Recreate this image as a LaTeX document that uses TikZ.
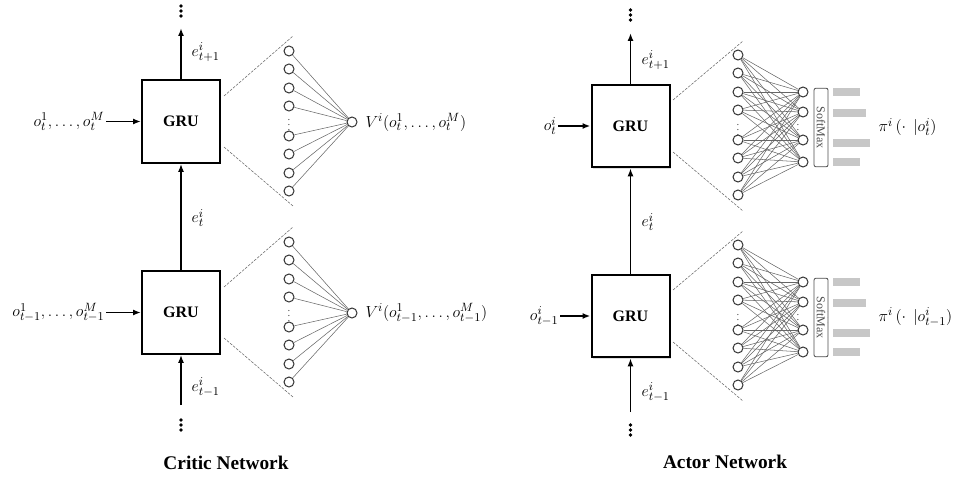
\documentclass[tikz,border=0pt]{standalone}
\usepackage{fontspec}
\setmainfont{Liberation Serif}
\usetikzlibrary{arrows.meta,shadows}
\begin{document}
\begin{tikzpicture}[x=0.75pt,y=-0.75pt,
  gru/.style={draw,line width=1.5pt,fill=white,minimum width=58.5pt,minimum height=62pt,
    font=\fontsize{12}{14}\selectfont\bfseries,
    drop shadow={opacity=0.25,shadow xshift=1pt,shadow yshift=-1pt}},
  arr/.style={line width=1.4pt,-{Latex[length=6pt,width=4.5pt]}},
  lab/.style={font=\fontsize{13}{15}\selectfont, inner sep=1pt},
  neu/.style={circle,draw=black!80,fill=white,line width=0.75pt,minimum size=7.5pt,inner sep=0pt},
  syn/.style={draw=black!60,line width=0.4pt},
  zoomline/.style={draw=black!60,line width=0.4pt,dash pattern=on 2pt off 1pt},
  bar/.style={fill=black!22},
  smax/.style={draw=black!70,line width=0.6pt,rounded corners=1.5pt,minimum width=10.5pt,minimum height=59pt,inner sep=0pt},
  title/.style={font=\fontsize{14.5}{17}\selectfont\bfseries},
  ndots/.style={font=\footnotesize,text=black!70,inner sep=0pt},
]
\useasboundingbox (0,0) rectangle (956,478);

% ================= CRITIC =================
\node[gru] (cg1) at (181,121.5) {GRU};
\node[gru] (cg2) at (181,312.5) {GRU};
\coordinate (ctop) at (181,28);
\coordinate (cbot) at (181,405);
\draw[arr] (cg1.north) -- (ctop);
\draw[arr] (cg2.north) -- (cg1.south);
\draw[arr] (cbot) -- (cg2.south);
\foreach \y in {6,11,16,420,425,430} \fill (181,\y) circle (1.4pt);
\node[lab,anchor=west] (ce1) at (190,52) {$e^i_{t+1}$};
\node[lab,anchor=west] (ce2) at (190,218) {$e^i_{t}$};
\node[lab,anchor=west] (ce3) at (190,387) {$e^i_{t-1}$};
\node[lab,anchor=east] (cin1) at (106,121.5) {$o^1_t,\ldots,o^M_t$};
\node[lab,anchor=east] (cin2) at (106,312.5) {$o^1_{t-1},\ldots,o^M_{t-1}$};
\draw[arr] (cin1.east |- cg1.west) -- (cg1.west);
\draw[arr] (cin2.east |- cg2.west) -- (cg2.west);

% critic top layer
\draw[zoomline] (224,96) -- (293,36);
\draw[zoomline] (224,147) -- (293,206);
\foreach \y [count=\k] in {51,69,88,106,136,154,173,191} \node[neu] (ct\k) at (289,\y) {};
\node[neu] (cto) at (352,122) {};
\foreach \k in {1,...,8} \draw[syn] (ct\k) -- (cto);
\node[ndots] at (289,121) {$\vdots$};
\node[lab,anchor=west] (cv1) at (364,122) {$V^i(o^1_t,\ldots,o^M_t)$};

% critic bottom layer
\draw[zoomline] (224,287) -- (293,227);
\draw[zoomline] (224,338) -- (293,397);
\foreach \y [count=\k] in {242,260,279,297,327,345,364,382} \node[neu] (cb\k) at (289,\y) {};
\node[neu] (cbo) at (352,313) {};
\foreach \k in {1,...,8} \draw[syn] (cb\k) -- (cbo);
\node[ndots] at (289,312) {$\vdots$};
\node[lab,anchor=west] (cv2) at (364,313) {$V^i(o^1_{t-1},\ldots,o^M_{t-1})$};

\node[title] (ctitle) at (226,463) {Critic Network};

% ================= ACTOR =================
\node[gru] (ag1) at (630.5,126) {GRU};
\node[gru] (ag2) at (630.5,316) {GRU};
\coordinate (atop) at (630.5,33);
\coordinate (abot) at (630.5,412);
\draw[arr] (ag1.north) -- (atop);
\draw[arr] (ag2.north) -- (ag1.south);
\draw[arr] (abot) -- (ag2.south);
\foreach \y in {10,15,20,425,430,435} \fill (630.5,\y) circle (1.4pt);
\node[lab,anchor=west] (ae1) at (640,60) {$e^i_{t+1}$};
\node[lab,anchor=west] (ae2) at (640,222) {$e^i_{t}$};
\node[lab,anchor=west] (ae3) at (640,392) {$e^i_{t-1}$};
\node[lab,anchor=east] (ain1) at (558,126) {$o^i_t$};
\node[lab,anchor=east] (ain2) at (560,316) {$o^i_{t-1}$};
\draw[arr] (ain1.east |- ag1.west) -- (ag1.west);
\draw[arr] (ain2.east |- ag2.west) -- (ag2.west);

% actor top layer
\draw[zoomline] (673,100) -- (743,41);
\draw[zoomline] (673,152) -- (743,211);
\foreach \y [count=\k] in {55,73,92,110,140,158,177,195} \node[neu] (al\k) at (738,\y) {};
\foreach \y [count=\k] in {92,112,140,162} \node[neu] (ar\k) at (803,\y) {};
\foreach \k in {1,...,8} \foreach \j in {1,...,4} \draw[syn] (al\k) -- (ar\j);
\node[ndots] at (738,126) {$\vdots$};
\node[ndots] at (798,126) {$\vdots$};
\node[smax] (as1) at (821,127.5) {};
\node[rotate=-90,font=\fontsize{9}{10}\selectfont,text=black!70] at (as1.center) {SoftMax};
\node[font=\tiny,text=black!35,inner sep=0pt] at (828,124) {$\vdots$};
\fill[bar] (833,88) rectangle (860,96);
\fill[bar] (833,109) rectangle (866,117);
\fill[bar] (833,139) rectangle (870,147);
\fill[bar] (833,158) rectangle (860,166);
\node[lab,anchor=west] (api1) at (877,127) {$\pi^{i}\,(\cdot\;\,|o^i_t)$};

% actor bottom layer
\draw[zoomline] (673,290) -- (743,231);
\draw[zoomline] (673,342) -- (743,401);
\foreach \y [count=\k] in {245,263,282,300,330,348,367,385} \node[neu] (bl\k) at (738,\y) {};
\foreach \y [count=\k] in {282,302,330,352} \node[neu] (br\k) at (803,\y) {};
\foreach \k in {1,...,8} \foreach \j in {1,...,4} \draw[syn] (bl\k) -- (br\j);
\node[ndots] at (738,316) {$\vdots$};
\node[ndots] at (798,316) {$\vdots$};
\node[smax] (as2) at (821,317.5) {};
\node[rotate=-90,font=\fontsize{9}{10}\selectfont,text=black!70] at (as2.center) {SoftMax};
\node[font=\tiny,text=black!35,inner sep=0pt] at (828,314) {$\vdots$};
\fill[bar] (833,278) rectangle (860,286);
\fill[bar] (833,299) rectangle (866,307);
\fill[bar] (833,329) rectangle (870,337);
\fill[bar] (833,348) rectangle (860,356);
\node[lab,anchor=west] (api2) at (877,317) {$\pi^{i}\,(\cdot\;\,|o^i_{t-1})$};

\node[title] (atitle) at (725,462) {Actor Network};
\end{tikzpicture}
\end{document}
